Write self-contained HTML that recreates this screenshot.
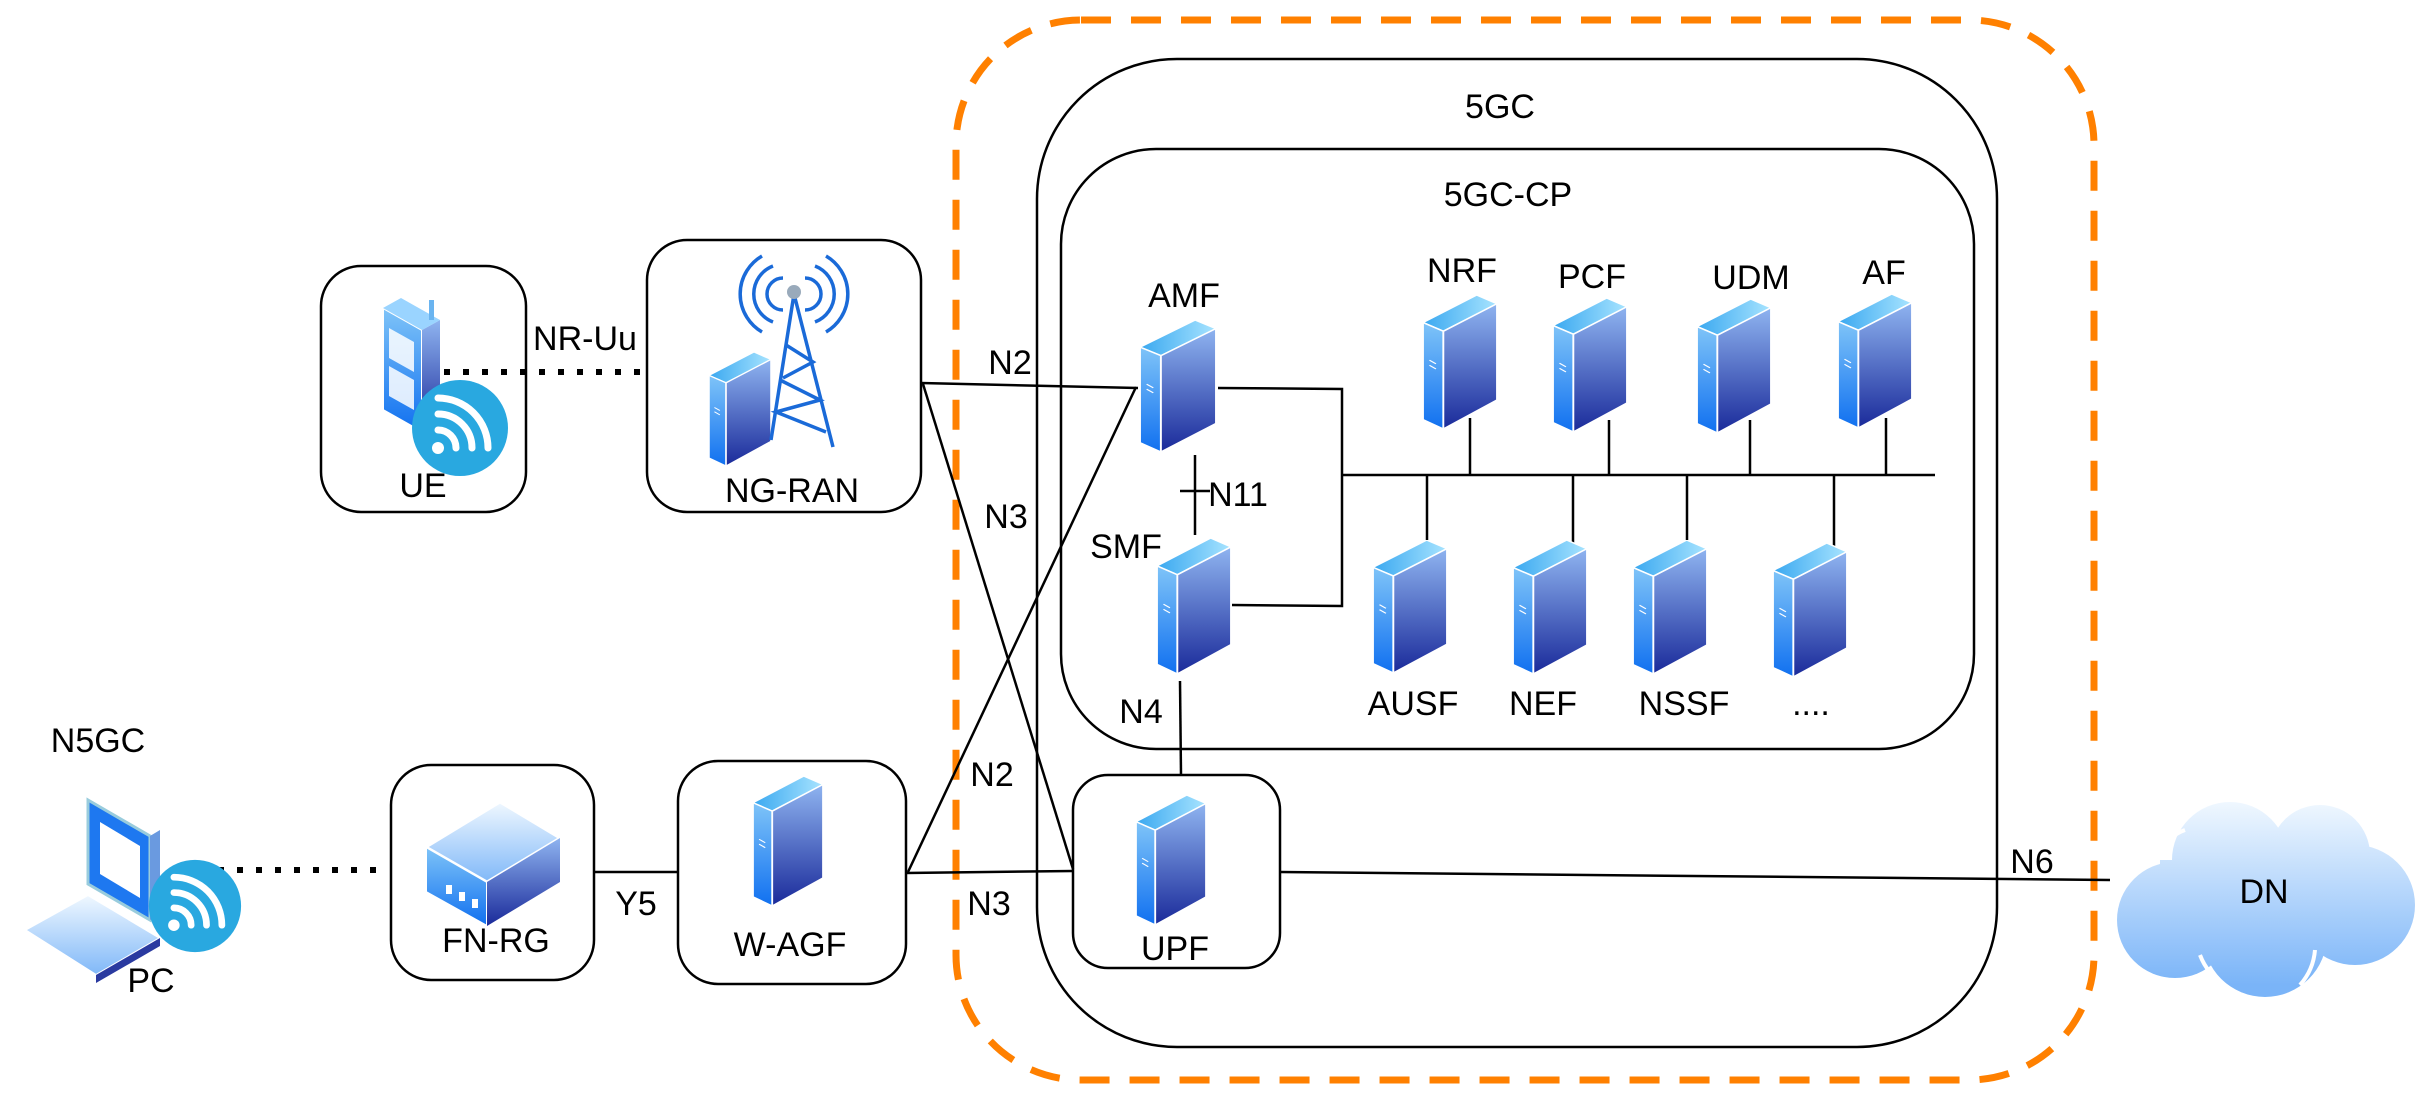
<!DOCTYPE html>
<html><head><meta charset="utf-8"><style>
html,body{margin:0;padding:0;background:#fff;}
svg{display:block;}
text{font-family:"Liberation Sans",sans-serif;font-size:34px;fill:#000;}
</style></head><body>
<svg width="2428" height="1102" viewBox="0 0 2428 1102" xmlns="http://www.w3.org/2000/svg">
<defs>
<linearGradient id="gr" x1="0" y1="0" x2="0" y2="1"><stop offset="0" stop-color="#8fb4f0"/><stop offset="1" stop-color="#1a2a9a"/></linearGradient>
<linearGradient id="gl" x1="0" y1="0" x2="0" y2="1"><stop offset="0" stop-color="#7fc4f8"/><stop offset="1" stop-color="#1070f0"/></linearGradient>
<linearGradient id="gt" x1="0" y1="0" x2="1" y2="0"><stop offset="0" stop-color="#3aa8f0"/><stop offset="1" stop-color="#a8e4ff"/></linearGradient>
<linearGradient id="gc" x1="0" y1="0" x2="0" y2="1"><stop offset="0" stop-color="#f0f8ff"/><stop offset="1" stop-color="#80b8f8"/></linearGradient>
<linearGradient id="gcl" gradientUnits="userSpaceOnUse" x1="0" y1="795" x2="0" y2="985"><stop offset="0" stop-color="#f4faff"/><stop offset="1" stop-color="#7ab4f8"/></linearGradient>
<symbol id="srv" viewBox="0 0 80 185" preserveAspectRatio="none">
<polygon points="0,38 58,0 80,12 22,50" fill="url(#gt)" stroke="#fff" stroke-width="2"/>
<polygon points="0,38 22,50 22,185 0,172" fill="url(#gl)" stroke="#fff" stroke-width="2"/>
<polygon points="22,50 80,12 80,145 22,185" fill="url(#gr)" stroke="#fff" stroke-width="2"/>
<line x1="7" y1="90" x2="14" y2="95" stroke="#fff" stroke-width="1.5"/>
<line x1="7" y1="97" x2="14" y2="102" stroke="#fff" stroke-width="1.5"/>
</symbol>
<symbol id="wifi" viewBox="-50 -50 100 100">
<circle cx="0" cy="0" r="48" fill="#29a8e0"/>
<circle cx="-22" cy="20" r="6" fill="#fff"/>
<path d="M-22,2 A18,18 0 0 1 -4,20" fill="none" stroke="#fff" stroke-width="7" stroke-linecap="round"/>
<path d="M-22,-14 A34,34 0 0 1 12,20" fill="none" stroke="#fff" stroke-width="7" stroke-linecap="round"/>
<path d="M-22,-30 A50,50 0 0 1 28,20" fill="none" stroke="#fff" stroke-width="7" stroke-linecap="round"/>
</symbol>
</defs>

<rect x="956" y="20" width="1138" height="1060" rx="125" fill="none" stroke="#ff8000" stroke-width="7" stroke-dasharray="30,20"/>
<rect x="1037" y="59" width="960" height="988" rx="140" fill="none" stroke="#000" stroke-width="2.5"/>
<text x="1500" y="118" text-anchor="middle">5GC</text>
<rect x="1061" y="149" width="913" height="600" rx="95" fill="none" stroke="#000" stroke-width="2.5"/>
<text x="1508" y="206" text-anchor="middle">5GC-CP</text>

<rect x="321" y="266" width="205" height="246" rx="40" fill="none" stroke="#000" stroke-width="2.5"/>
<rect x="647" y="240" width="274" height="272" rx="40" fill="none" stroke="#000" stroke-width="2.5"/>
<rect x="391" y="765" width="203" height="215" rx="40" fill="none" stroke="#000" stroke-width="2.5"/>
<rect x="678" y="761" width="228" height="223" rx="40" fill="none" stroke="#000" stroke-width="2.5"/>
<rect x="1073" y="775" width="207" height="193" rx="35" fill="none" stroke="#000" stroke-width="2.5"/>

<g stroke="#000" stroke-width="2.5" fill="none">
<line x1="921" y1="383" x2="1138" y2="388"/>
<line x1="923" y1="384" x2="1073" y2="869"/>
<line x1="908" y1="872" x2="1136" y2="387"/>
<line x1="906" y1="873" x2="1073" y2="871"/>
<line x1="594" y1="872" x2="678" y2="872"/>
<polyline points="1218,388 1342,389 1342,606 1232,605"/>
<line x1="1342" y1="475" x2="1935" y2="475"/>
<line x1="1470" y1="418" x2="1470" y2="475"/>
<line x1="1609" y1="420" x2="1609" y2="475"/>
<line x1="1750" y1="420" x2="1750" y2="475"/>
<line x1="1886" y1="418" x2="1886" y2="475"/>
<line x1="1427" y1="475" x2="1427" y2="547"/>
<line x1="1573" y1="475" x2="1573" y2="547"/>
<line x1="1687" y1="475" x2="1687" y2="547"/>
<line x1="1834" y1="475" x2="1834" y2="547"/>
<line x1="1195" y1="455" x2="1195" y2="535"/>
<line x1="1180" y1="491" x2="1210" y2="491"/>
<line x1="1180" y1="681" x2="1181" y2="775"/>
<line x1="1280" y1="872" x2="2110" y2="880"/>
</g>
<g stroke="#000" stroke-width="6" stroke-dasharray="6,13" fill="none">
<line x1="444" y1="372" x2="640" y2="372"/>
<line x1="180" y1="870" x2="376" y2="870"/>
</g>

<use href="#srv" x="1140" y="320" width="76" height="132"/>
<use href="#srv" x="1157" y="538" width="74" height="136"/>
<use href="#srv" x="1423" y="295" width="74" height="134"/>
<use href="#srv" x="1553" y="298" width="74" height="134"/>
<use href="#srv" x="1697" y="299" width="74" height="134"/>
<use href="#srv" x="1838" y="294" width="74" height="134"/>
<use href="#srv" x="1373" y="540" width="74" height="133"/>
<use href="#srv" x="1513" y="540" width="74" height="134"/>
<use href="#srv" x="1633" y="540" width="74" height="134"/>
<use href="#srv" x="1773" y="543" width="74" height="134"/>
<use href="#srv" x="1136" y="795" width="70" height="130"/>
<use href="#srv" x="753" y="776" width="70" height="130"/>
<use href="#srv" x="709" y="352" width="62" height="114"/>

<g stroke="#1a6ad8" stroke-width="3.5" fill="none">
<line x1="794" y1="294" x2="771" y2="440"/>
<line x1="794" y1="294" x2="833" y2="447"/>
<polyline points="780,380 820,400 776,412 826,432"/>
<polyline points="786,345 813,362 783,378"/>
<path d="M783,278 A16,16 0 0 0 783,310"/><path d="M805,278 A16,16 0 0 1 805,310"/>
<path d="M773,266 A30,30 0 0 0 773,322"/><path d="M815,266 A30,30 0 0 1 815,322"/>
<path d="M762,256 A44,44 0 0 0 762,332"/><path d="M826,256 A44,44 0 0 1 826,332"/>
</g>
<circle cx="794" cy="292" r="7" fill="#9ab"/>

<polygon points="383,308 422,330 422,432 383,410" fill="url(#gl)" stroke="#fff" stroke-width="2"/>
<polygon points="422,330 440,320 440,420 422,432" fill="url(#gr)"/>
<polygon points="383,308 401,298 440,320 422,330" fill="#9ad4ff"/>
<polygon points="389,328 414,342 414,372 389,358" fill="#fff" opacity="0.85"/>
<polygon points="389,366 414,380 414,410 389,396" fill="#fff" opacity="0.85"/>
<rect x="429" y="300" width="5" height="20" fill="#6ab4f0"/>
<use href="#wifi" x="410" y="378" width="100" height="100"/>

<polygon points="88,800 150,836 150,920 88,884" fill="#1e78f0" stroke="#9cd" stroke-width="3"/>
<polygon points="100,822 140,846 140,898 100,874" fill="#fff"/>
<polygon points="150,836 160,830 160,914 150,920" fill="#6a9ae0"/>
<polygon points="25,930 88,895 160,938 96,975" fill="url(#gc)" stroke="#fff" stroke-width="2"/>
<polygon points="96,975 160,938 160,946 96,983" fill="#2a3aa0"/>
<use href="#wifi" x="146" y="858" width="98" height="96"/>

<polygon points="426,847 500,802 560,838 487,882" fill="url(#gc)" stroke="#fff" stroke-width="3"/>
<polygon points="426,847 487,882 487,926 426,892" fill="url(#gl)" stroke="#fff" stroke-width="2"/>
<polygon points="487,882 560,838 560,882 487,926" fill="url(#gr)"/>
<rect x="446" y="885" width="6" height="9" fill="#fff"/><rect x="459" y="892" width="6" height="9" fill="#fff"/><rect x="472" y="899" width="6" height="9" fill="#fff"/>

<g fill="url(#gcl)">
<circle cx="2175" cy="920" r="58"/>
<circle cx="2265" cy="935" r="62"/>
<circle cx="2355" cy="905" r="60"/>
<circle cx="2230" cy="860" r="58"/>
<circle cx="2320" cy="855" r="50"/>
<rect x="2160" y="860" width="220" height="80"/>
</g>
<g fill="none" stroke="#fff" stroke-width="4">
<path d="M2200,955 A60,60 0 0 0 2225,985"/>
<path d="M2300,985 A60,60 0 0 0 2315,950"/>
<path d="M2160,855 A40,40 0 0 1 2185,830"/>
</g>

<text x="423" y="497" text-anchor="middle" font-size="28">UE</text>
<text x="585" y="350" text-anchor="middle">NR-Uu</text>
<text x="792" y="502" text-anchor="middle">NG-RAN</text>
<text x="98" y="752" text-anchor="middle" font-size="30">N5GC</text>
<text x="151" y="992" text-anchor="middle" font-size="30">PC</text>
<text x="496" y="952" text-anchor="middle">FN-RG</text>
<text x="636" y="915" text-anchor="middle">Y5</text>
<text x="790" y="956" text-anchor="middle">W-AGF</text>
<text x="1010" y="374" text-anchor="middle">N2</text>
<text x="1006" y="528" text-anchor="middle">N3</text>
<text x="992" y="786" text-anchor="middle">N2</text>
<text x="989" y="915" text-anchor="middle">N3</text>
<text x="1184" y="307" text-anchor="middle">AMF</text>
<text x="1126" y="558" text-anchor="middle">SMF</text>
<text x="1238" y="506" text-anchor="middle">N11</text>
<text x="1141" y="723" text-anchor="middle">N4</text>
<text x="1175" y="960" text-anchor="middle">UPF</text>
<text x="1462" y="282" text-anchor="middle">NRF</text>
<text x="1592" y="288" text-anchor="middle">PCF</text>
<text x="1751" y="289" text-anchor="middle">UDM</text>
<text x="1884" y="284" text-anchor="middle">AF</text>
<text x="1413" y="715" text-anchor="middle">AUSF</text>
<text x="1543" y="715" text-anchor="middle">NEF</text>
<text x="1684" y="715" text-anchor="middle">NSSF</text>
<text x="1811" y="715" text-anchor="middle">....</text>
<text x="2032" y="873" text-anchor="middle">N6</text>
<text x="2264" y="903" text-anchor="middle">DN</text>
</svg>
</body></html>
